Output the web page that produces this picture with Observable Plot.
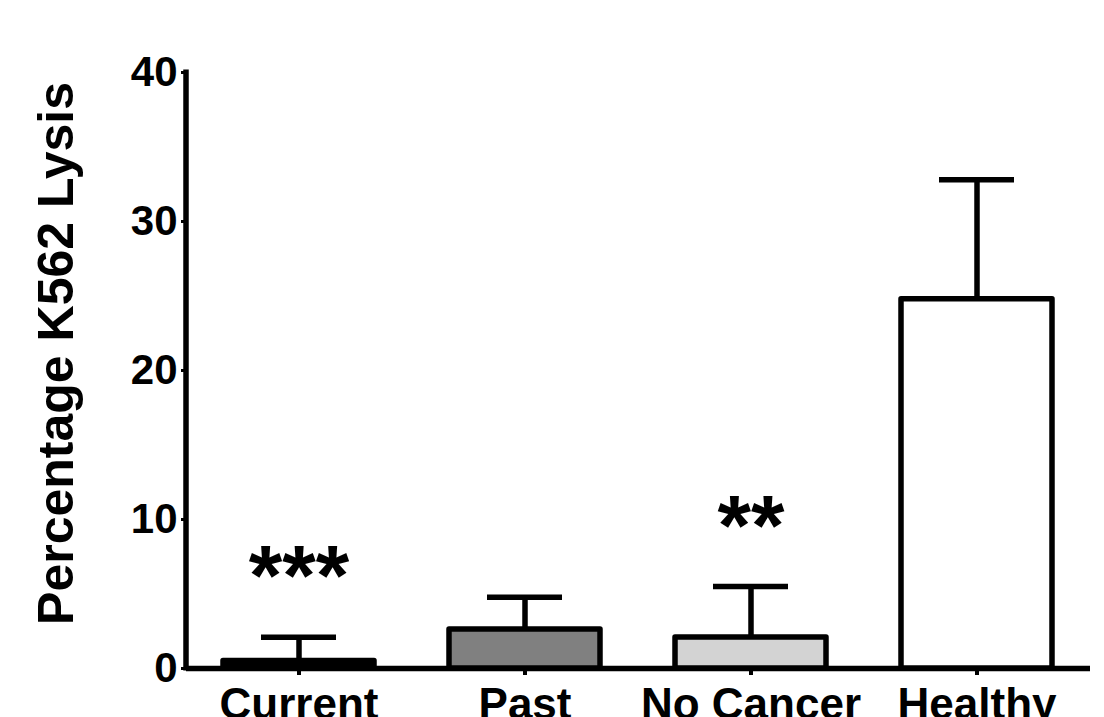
<!DOCTYPE html>
<html>
<head>
<meta charset="utf-8">
<script src="https://cdn.jsdelivr.net/npm/d3@7"></script>
<script src="https://cdn.jsdelivr.net/npm/@observablehq/plot@0.6"></script>
<style>
  html, body { margin: 0; padding: 0; background: #fff; overflow: hidden; }
  #chart svg { display: block; }
</style>
</head>
<body>
<div id="chart"></div>
<script>
// ---- data ----
const groups = ["Current", "Past", "No Cancer", "Healthy"];
const means = [0.5, 2.62, 2.08, 24.78];
const sems = [1.6, 2.17, 3.42, 8.02];
const stars = ["***", "", "**", ""];
const fills = ["#000000", "#808080", "#d3d3d3", "#ffffff"];
const yTicks = [0, 10, 20, 30, 40];
const yLabel = "Percentage K562 Lysis";

const data = groups.map((g, i) => ({
  group: g, mean: means[i], top: means[i] + sems[i], star: stars[i], fill: fills[i]
}));

const FONT = "'Liberation Sans', Arial, sans-serif";
const W = 1104, H = 717;

// y axis line drawn from the y scale
const yAxisLine = (index, scales, values, dims) => {
  const line = document.createElementNS("http://www.w3.org/2000/svg", "line");
  const x = dims.marginLeft;
  line.setAttribute("x1", x); line.setAttribute("x2", x);
  line.setAttribute("y1", scales.y(40) - 2.5); line.setAttribute("y2", scales.y(0) + 2.5);
  line.setAttribute("stroke", "black"); line.setAttribute("stroke-width", 5.5);
  return line;
};

const chart = Plot.plot({
  width: W, height: H,
  marginLeft: 186, marginRight: 14, marginTop: 72, marginBottom: 49,
  style: { fontFamily: FONT, fontWeight: "bold", background: "white", overflow: "visible" },
  x: { domain: groups, paddingInner: 0.33, paddingOuter: 0.165, axis: null },
  y: { domain: [0, 40], axis: null },
  marks: [
    Plot.axisY({ ticks: yTicks, tickSize: 5, tickPadding: 4, strokeWidth: 3, fontSize: 42, fontWeight: "bold", fill: "black", label: null }),
    Plot.axisX({ tickSize: 7, tickPadding: 12, strokeWidth: 4, fontSize: 44, fontWeight: "bold", fill: "black", label: null }),
    Plot.ruleX(data, { x: "group", y1: "mean", y2: "top", stroke: "black", strokeWidth: 5.5 }),
    Plot.tickY(data, { x: "group", y: "top", stroke: "black", strokeWidth: 5.5, insetLeft: 38, insetRight: 38 }),
    Plot.ruleY([0], { stroke: "black", strokeWidth: 5.5 }),
    Plot.barY(data, { x: "group", y: "mean", fill: "fill", stroke: "black", strokeWidth: 5.5, strokeLinejoin: "round" }),
    yAxisLine,
    Plot.text(data, { x: "group", y: "top", text: "star", fontSize: 86, fontWeight: "bold", fill: "black", lineAnchor: "bottom", dy: -32 }),
    Plot.text([yLabel], { frameAnchor: "left", text: d => d, rotate: -90, textAnchor: "middle", fontSize: 50, fontWeight: "bold", fill: "black", lineAnchor: "bottom", dx: -114, dy: -17 })
  ]
});
document.getElementById("chart").appendChild(chart);
</script>
</body>
</html>
